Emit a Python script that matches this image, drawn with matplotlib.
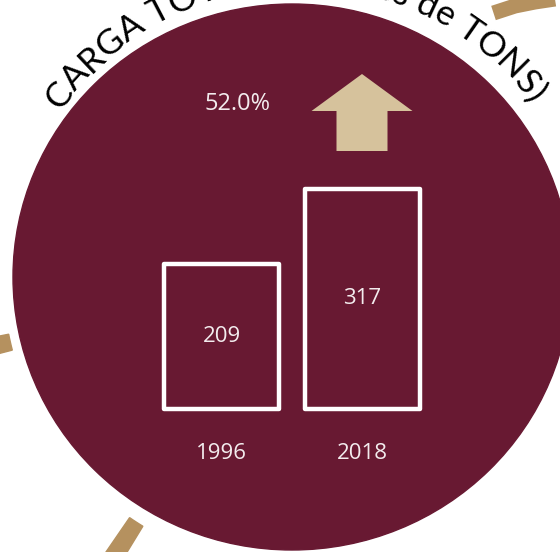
import numpy as np
import matplotlib
matplotlib.use("Agg")
import matplotlib.pyplot as plt
from matplotlib.patches import Ellipse, Wedge, FancyArrow
from matplotlib.font_manager import findfont, FontProperties
from matplotlib.ft2font import FT2Font

# data
years = ["1996", "2018"]
values = [209, 317]
change_label = "52.0%"
title = "CARGA TOTAL (millones de TONS)"

maroon = "#681932"
tan = "#b5915f"
arrow_tan = "#d6c29c"
light = "#f3ecee"
font = "Open Sans"
title_font = "Lato"

fig = plt.figure(figsize=(5.6, 5.52), dpi=100)
ax = fig.add_axes([0, 0, 1, 1])
ax.set_xlim(0, 560)
ax.set_ylim(552, 0)
ax.axis("off")

# decorative ring pieces (angles in data coords, y inverted)
ring_c = (295, 277)
for t1, t2 in [(165.5, 168.7), (121.4, 124.5)]:
    ax.add_patch(Wedge(ring_c, 345, t1, t2, width=53, color=tan, zorder=1))
ax.plot([493.5, 515, 535, 555, 575], [13, 6, 2, -1, -5], color=tan,
        lw=10.8, solid_capstyle="butt", zorder=1)

# curved title, sized to span the arc from ~145 deg to ~36 deg
tc, R = (298, 277), 290
a0, a1 = 145.0, 36.5
ft = FT2Font(findfont(FontProperties(family=title_font)))
ft.set_size(10, 100)
adv10 = np.array([ft.load_char(ord(c)).linearHoriAdvance / 65536 for c in title])
fsize = 10 * np.radians(a0 - a1) * R / adv10.sum()
adv = adv10 * fsize / 10
start = np.radians(a0)
pos = np.cumsum(adv) - adv / 2
for c, p in zip(title, pos):
    th = start - p / R
    ax.text(tc[0] + R * np.cos(th), tc[1] - R * np.sin(th), c,
            rotation=np.degrees(th) - 90, rotation_mode="anchor",
            ha="center", va="baseline", fontsize=fsize, family=title_font,
            color="black", zorder=2)

# main circle
ax.add_patch(Ellipse((292, 277), 558, 546, color=maroon, zorder=3))

# change label and arrow
ax.text(238, 104, change_label, ha="center", va="center", fontsize=17,
        family=font, color=light, zorder=4)
ax.add_patch(FancyArrow(362, 151, 0, -77, width=51, head_width=101,
                        head_length=37, length_includes_head=True,
                        color=arrow_tan, lw=0, zorder=4))

# bars
bx = fig.add_axes([151 / 560, (552 - 408.5) / 552, 282 / 560, 242.6 / 552])
bx.set_xlim(-0.5, 1.5)
bx.set_ylim(0, 350)
bx.axis("off")
bx.patch.set_alpha(0)
bars = bx.bar(range(len(values)), values, width=0.81, facecolor="none",
              edgecolor="white", linewidth=3.2, clip_on=False)
for b in bars:
    b.set_joinstyle("round")
for i, v in enumerate(values):
    bx.text(i, v / 2, str(v), ha="center", va="center", fontsize=16,
            family=font, color=light)
    bx.annotate(years[i], (i, 0), xytext=(0, -32.5), textcoords="offset points",
                ha="center", va="center", fontsize=16, family=font,
                color=light, annotation_clip=False)

fig.savefig("out.png", dpi=100)
